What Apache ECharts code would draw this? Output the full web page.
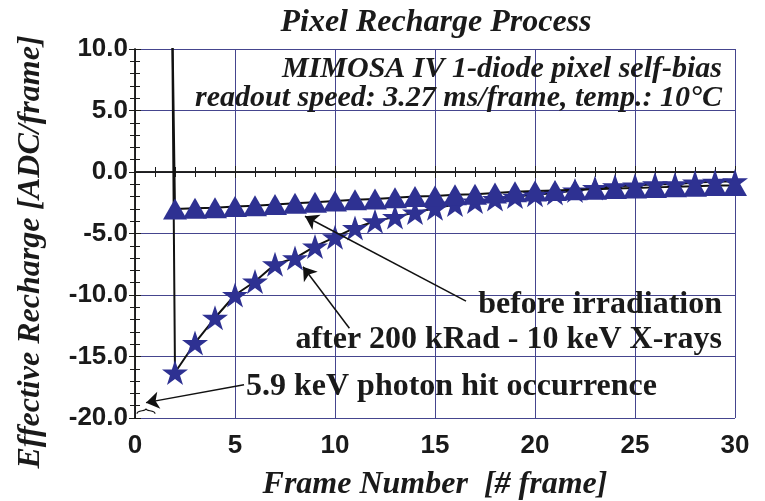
<!DOCTYPE html>
<html><head><meta charset="utf-8">
<script src="https://cdn.jsdelivr.net/npm/echarts@6/dist/echarts.min.js"></script>
<style>html,body{margin:0;padding:0;background:#fff}#c{width:765px;height:501px}</style>
</head><body><div id="c"></div>
<script>
// ---- data ----
const frames = [2,3,4,5,6,7,8,9,10,11,12,13,14,15,16,17,18,19,20,21,22,23,24,25,26,27,28,29,30];
const beforeIrradiation = [-3.0,-2.95,-2.9,-2.8,-2.75,-2.65,-2.55,-2.45,-2.35,-2.25,-2.2,-2.1,-2.0,-1.95,-1.85,-1.8,-1.7,-1.6,-1.55,-1.5,-1.45,-1.4,-1.35,-1.3,-1.25,-1.2,-1.15,-1.1,-1.1];
const after200kRad = [-16.3,-13.9,-11.85,-10.0,-8.9,-7.5,-7.0,-6.05,-5.3,-4.55,-4.0,-3.65,-3.3,-2.95,-2.65,-2.4,-2.2,-2.0,-1.85,-1.7,-1.5,-1.3,-1.15,-1.1,-1.0,-1.0,-0.85,-0.8,-0.75];
// photon hit: off-scale spike just before frame 2
const hitFrame = 1.85;
const hitValue = 14;
const xTickLabels = ['0','5','10','15','20','25','30'];
const yTickLabels = ['-20.0','-15.0','-10.0','-5.0','0.0','5.0','10.0'];
const titleText = 'Pixel Recharge Process';
const subtitleLines = ['MIMOSA IV 1-diode pixel self-bias','readout speed: 3.27 ms/frame, temp.: 10\u00B0C'];
const xName = 'Frame Number  [# frame]';
const yName = 'Effective Recharge [ADC/frame]';
const annotations = ['before irradiation','after 200 kRad - 10 keV X-rays','5.9 keV photon hit occurrence'];

// ---- styling ----
const MARK = '#2e3192';
const INK = '#1a1a1a';
const GRID = '#45458e';
const SERIF = '"Liberation Serif", "Times New Roman", serif';
const SANS = '"Liberation Sans", Arial, sans-serif';
const STAR = 'path://M50,0 L61.8,35.1 L98.9,35.1 L68.9,56.9 L80.3,92.1 L50,70.4 L19.7,92.1 L31.1,56.9 L1.1,35.1 L38.2,35.1 Z';

function build(vals) {
  const d = [{value:[hitFrame, hitValue], symbol:'none'}];
  frames.forEach((f,i)=>d.push([f, vals[i]]));
  return d;
}

const chart = echarts.init(document.getElementById('c'), null, {renderer:'canvas'});
const axisCommon = {
  type:'value',
  axisLine:{show:true, lineStyle:{color:INK, width:1.5}},
  axisTick:{show:true, inside:true, length:6, lineStyle:{color:INK, width:1}},
  minorTick:{show:true, splitNumber:5, length:5, lineStyle:{color:INK, width:1}},
};
const option = {
  animation:false,
  backgroundColor:'#fff',
  title:{text:titleText, left:436, top:7, padding:0, textAlign:'center',
    textStyle:{fontFamily:SERIF, fontStyle:'italic', fontWeight:'bold', fontSize:32, color:INK}},
  grid:{left:135, right:30, top:49, bottom:83, containLabel:false, outerBoundsMode:'none'},
  xAxis:[
    Object.assign({}, axisCommon, {min:0, max:30, interval:5, position:'bottom',
      splitLine:{show:true, lineStyle:{color:GRID, width:1}},
      axisLabel:{fontFamily:SANS, fontWeight:'bold', fontSize:26, color:INK, margin:15,
        formatter:v=>xTickLabels[Math.round(v/5)]},
      name:xName, nameLocation:'middle', nameGap:51,
      nameTextStyle:{fontFamily:SERIF, fontStyle:'italic', fontWeight:'bold', fontSize:32, color:INK}}),
    Object.assign({}, axisCommon, {min:0, max:30, interval:5, position:'top',
      splitLine:{show:false}, axisLabel:{show:false}})
  ],
  yAxis:[
    Object.assign({}, axisCommon, {min:-20, max:10, interval:5, position:'left',
      splitLine:{show:true, lineStyle:{color:GRID, width:1}},
      axisLabel:{fontFamily:SANS, fontWeight:'bold', fontSize:26, color:INK, margin:7,
        formatter:v=>yTickLabels[Math.round((v+20)/5)]}}),
    Object.assign({}, axisCommon, {min:-20, max:10, interval:5, position:'right',
      splitLine:{show:false}, axisLabel:{show:false}})
  ],
  series:[
    {
      name:'after 200 kRad', type:'line', xAxisIndex:0, yAxisIndex:0,
      data:build(after200kRad), symbol:STAR, symbolSize:[26,25], clip:true,
      itemStyle:{color:MARK}, lineStyle:{color:'#111', width:2}, z:2,
      markLine:{silent:true, animation:false, symbol:['none','arrow'], symbolSize:13,
        label:{show:false}, lineStyle:{color:'#111', width:1.5, type:'solid'},
        emphasis:{disabled:true},
        data:[
          [{coord:[16.55,-10.5]},{coord:[8.5,-3.6]}],
          [{coord:[10.72,-12.7]},{coord:[8.4,-7.7]}],
          [{coord:[5.45,-17.3]},{coord:[0.55,-18.75]}]
        ]}
    },
    {
      name:'before irradiation', type:'line', xAxisIndex:0, yAxisIndex:0,
      data:build(beforeIrradiation), symbol:'triangle', symbolSize:[24,21], clip:true,
      itemStyle:{color:MARK}, lineStyle:{color:'#111', width:2}, z:3
    }
  ]
};
chart.setOption(option);

// annotations (text) and the small brace marking the hit occurrence
const p0 = chart.convertToPixel({gridIndex:0}, [0.1, -19.65]);
const p1 = chart.convertToPixel({gridIndex:0}, [1.0, -19.65]);
const a = p0[0], c = p1[0], b = p0[1], m = (a+c)/2;
const annFont = 'bold 32px ' + SERIF;
const subFont = 'italic bold 30px ' + SERIF;
chart.setOption({graphic:[
  {type:'text', x:722, y:69, style:{text:subtitleLines[0], font:subFont, fill:INK, align:'right', verticalAlign:'middle'}},
  {type:'text', x:722, y:98, style:{text:subtitleLines[1], font:subFont, fill:INK, align:'right', verticalAlign:'middle'}},
  {type:'text', x:722, y:305, style:{text:annotations[0], font:annFont, fill:INK, align:'right', verticalAlign:'middle'}},
  {type:'text', x:722, y:340, style:{text:annotations[1], font:annFont, fill:INK, align:'right', verticalAlign:'middle'}},
  {type:'text', x:246, y:387, style:{text:annotations[2], font:annFont, fill:INK, align:'left', verticalAlign:'middle'}},
  {type:'text', x:31, y:252, rotation:Math.PI/2, style:{text:yName, font:'italic bold 32px ' + SERIF, fill:INK, align:'center', verticalAlign:'middle'}},
  {type:'bezierCurve', shape:{x1:a, y1:b, cpx1:a, cpy1:b-4, cpx2:m, cpy2:b-2, x2:m, y2:b-5}, style:{fill:'none', stroke:'#111', lineWidth:1.2}},
  {type:'bezierCurve', shape:{x1:c, y1:b, cpx1:c, cpy1:b-4, cpx2:m, cpy2:b-2, x2:m, y2:b-5}, style:{fill:'none', stroke:'#111', lineWidth:1.2}}
]});
</script>
</body></html>
